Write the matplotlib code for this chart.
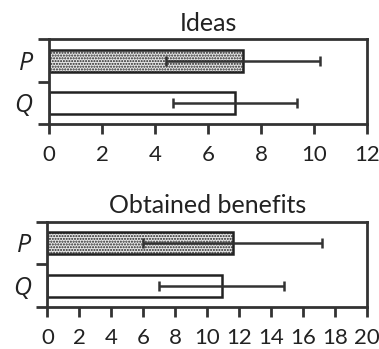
import matplotlib
matplotlib.use("Agg")
import matplotlib.pyplot as plt

categories = ["P", "Q"]
ideas_mean = [7.32, 7.0]
ideas_err = [2.9, 2.34]
benefits_mean = [11.6, 10.9]
benefits_err = [5.6, 3.9]
ideas_ticks = [0, 2, 4, 6, 8, 10, 12]
benefits_ticks = [0, 2, 4, 6, 8, 10, 12, 14, 16, 18, 20]
titles = ["Ideas", "Obtained benefits"]

plt.rcParams['font.family'] = ['Lato', 'DejaVu Sans']
plt.rcParams['hatch.linewidth'] = 1.0
plt.rcParams['hatch.color'] = '#333333'

fig = plt.figure(figsize=(3.79, 3.49), dpi=100)
ax1 = fig.add_axes([0.130, 0.645, 0.839, 0.242])
ax2 = fig.add_axes([0.125, 0.120, 0.844, 0.245])

def draw(ax, means, errs, ticks, title):
    ypos = [0, 1]
    fills = ['#e6e6e6', 'white']
    hatches = ['......', None]
    for y, m, e, fc, h in zip(ypos, means, errs, fills, hatches):
        ax.barh(y, m, height=0.52, color=fc, edgecolor='#222222', linewidth=1.8,
                hatch=h, zorder=2)
        ax.errorbar(m, y, xerr=e, fmt='none', ecolor='#333333', elinewidth=1.8,
                    capsize=3.5, capthick=1.8, zorder=3)
    ax.set_xlim(ticks[0], ticks[-1])
    ax.set_ylim(1.5, -0.5)
    ax.set_xticks(ticks)
    ax.set_xticklabels([str(t) for t in ticks], fontsize=16, color='#222222')
    ax.set_yticks([-0.5, 0.5, 1.5])
    ax.set_yticklabels([])
    ax.set_yticks(ypos, minor=True)
    ax.set_yticklabels(categories, minor=True, fontsize=18, style='italic',
                       family=['Open Sans', 'DejaVu Sans'], color='#222222')
    ax.tick_params(axis='y', which='minor', length=0, pad=12)
    ax.tick_params(axis='y', which='major', length=8, width=2, color='#333333')
    ax.tick_params(axis='x', length=7, width=2, color='#333333', pad=8)
    for s in ax.spines.values():
        s.set_linewidth(2)
        s.set_color('#333333')
    ax.set_title(title, fontsize=18, color='#222222', pad=6)

draw(ax1, ideas_mean, ideas_err, ideas_ticks, titles[0])
draw(ax2, benefits_mean, benefits_err, benefits_ticks, titles[1])

fig.savefig("out.png", dpi=100)
